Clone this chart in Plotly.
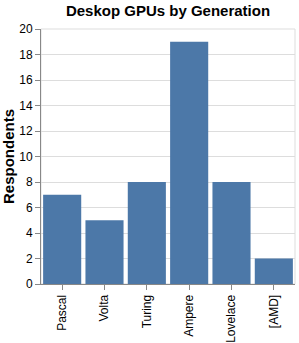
import plotly.graph_objects as go

categories = ["Pascal", "Volta", "Turing", "Ampere", "Lovelace", "[AMD]"]
respondents = [7, 5, 8, 19, 8, 2]
y_ticks = [0, 2, 4, 6, 8, 10, 12, 14, 16, 18, 20]

fig = go.Figure(go.Bar(x=categories, y=respondents, marker_color="#4c78a8",
                       marker_line_width=0))

font = "Liberation Sans, Arial, sans-serif"
fig.update_layout(
    width=299, height=343,
    margin=dict(l=41, r=4, t=29, b=59),
    plot_bgcolor="white", paper_bgcolor="white",
    bargap=0.1,
    font=dict(family=font, size=12, color="black"),
    title=dict(text="<b>Deskop GPUs by Generation</b>", x=168/299, xanchor="center",
               y=1 - 11/343, yanchor="middle", font=dict(size=15, family=font)),
    showlegend=False,
)
fig.update_xaxes(
    tickangle=-90, showline=True, linecolor="#888", linewidth=1,
    ticks="outside", ticklen=5, tickcolor="#888", showgrid=False,
    tickfont=dict(size=12), automargin=False,
)
fig.update_yaxes(
    range=[0, 20], tickvals=y_ticks, showline=True, linecolor="#888", linewidth=1,
    ticks="outside", ticklen=5, tickcolor="#888", gridcolor="#ddd",
    zeroline=False, tickfont=dict(size=12), automargin=False,
    title=dict(text="<b>Respondents</b>", font=dict(size=15), standoff=1),
)
fig.add_shape(type="rect", xref="paper", yref="paper", x0=0, x1=1, y0=0, y1=1,
              line=dict(color="#ddd", width=1), layer="below")
fig.write_html("out.html", config={"displayModeBar": False},
               post_script="document.body.style.margin='0';document.body.style.overflow='hidden';")
